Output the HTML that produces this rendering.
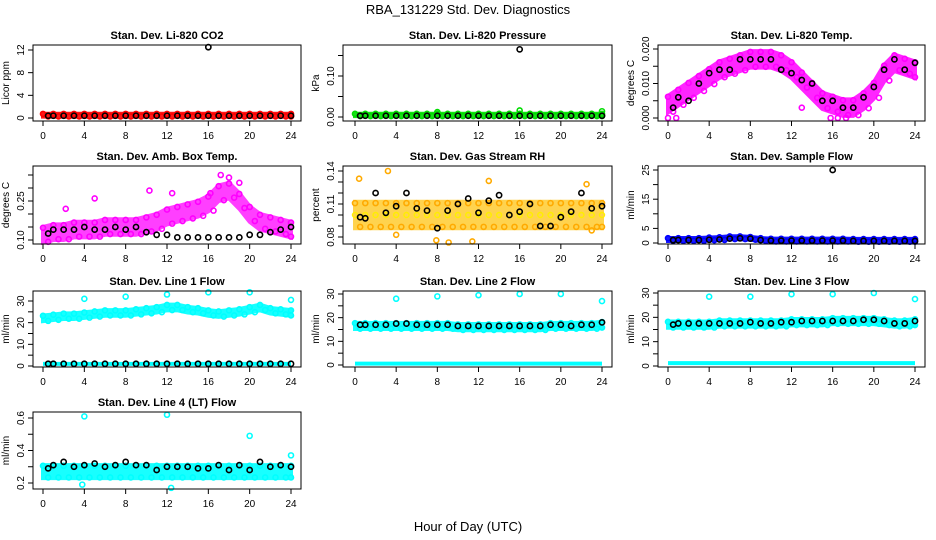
<!DOCTYPE html>
<html><head><meta charset="utf-8">
<style>
html,body{margin:0;padding:0;background:#fff;}
svg{display:block;font-family:"Liberation Sans",sans-serif;}
</style></head>
<body>
<svg id="chart" width="936" height="540" viewBox="0 0 936 540">
<text x="468" y="14" text-anchor="middle" font-size="13">RBA_131229  Std. Dev. Diagnostics</text>
<text x="468" y="531" text-anchor="middle" font-size="13">Hour of Day (UTC)</text>
</svg>
<script>
// ---- data (hourly values, 0..24) ----
const hours=[0,1,2,3,4,5,6,7,8,9,10,11,12,13,14,15,16,17,18,19,20,21,22,23,24];
const xTicks=[0,4,8,12,16,20,24];
const outlierHours=[4,8,12,16,20,24];

const co2Mid=[0.5,0.5,0.5,0.5,0.5,0.5,0.5,0.5,0.5,0.5,0.5,0.5,0.5,0.5,0.5,0.5,0.5,0.5,0.5,0.5,0.5,0.5,0.5,0.5,0.5];
const co2Black=[0.4,0.4,0.4,0.4,0.4,0.4,0.4,0.4,0.4,0.4,0.4,0.4,0.4,0.4,0.4,0.4,0.4,0.4,0.4,0.4,0.4,0.4,0.4,0.4,0.4];
const co2Outliers=[[16,12.5]];

const presMid=[0.005,0.005,0.005,0.005,0.005,0.005,0.005,0.005,0.005,0.005,0.005,0.005,0.005,0.005,0.005,0.005,0.005,0.005,0.005,0.005,0.005,0.005,0.005,0.005,0.005];
const presBlack=[0.003,0.003,0.003,0.003,0.003,0.003,0.003,0.003,0.003,0.003,0.003,0.003,0.003,0.003,0.003,0.003,0.003,0.003,0.003,0.003,0.003,0.003,0.003,0.003,0.003];
const presOutliers=[[16,0.165]];
const presColorOutliers=[[8,0.012],[16,0.016],[24,0.014]];

const tempMid=[0.004,0.006,0.008,0.010,0.012,0.014,0.015,0.016,0.017,0.017,0.017,0.016,0.014,0.011,0.008,0.005,0.004,0.003,0.003,0.005,0.008,0.013,0.016,0.015,0.014];
const tempBlack=[0.003,0.006,0.005,0.010,0.013,0.014,0.014,0.017,0.017,0.017,0.017,0.014,0.013,0.011,0.010,0.005,0.005,0.003,0.003,0.006,0.009,0.014,0.017,0.014,0.016];
const tempColorOutliers=[[0,0],[0.8,0],[15.8,0],[16.5,0],[17.3,0],[13,0.003]];

const ambMid=[0.12,0.13,0.13,0.14,0.14,0.14,0.15,0.15,0.15,0.15,0.16,0.17,0.19,0.20,0.21,0.22,0.24,0.28,0.29,0.25,0.20,0.17,0.16,0.15,0.14];
const ambBlack=[0.125,0.14,0.14,0.14,0.15,0.14,0.14,0.15,0.14,0.15,0.13,0.12,0.12,0.11,0.11,0.11,0.11,0.11,0.11,0.11,0.12,0.12,0.13,0.14,0.15];
const ambColorOutliers=[[2.2,0.22],[5,0.26],[10.3,0.29],[12.5,0.28],[16.2,0.28],[17.2,0.35],[18,0.34],[19,0.32]];

const rhMid=[0.100,0.100,0.100,0.100,0.100,0.100,0.100,0.100,0.100,0.100,0.100,0.100,0.100,0.100,0.100,0.100,0.100,0.100,0.100,0.100,0.100,0.100,0.100,0.100,0.100];
const rhBlack=[0.098,0.097,0.120,0.102,0.108,0.120,0.106,0.104,0.088,0.104,0.110,0.115,0.102,0.113,0.118,0.100,0.103,0.110,0.090,0.090,0.098,0.103,0.120,0.106,0.108];
const rhColorOutliers=[[0.4,0.133],[3.2,0.140],[4,0.082],[7.9,0.077],[9.1,0.075],[11.4,0.076],[13,0.131],[22.5,0.128],[23,0.086]];

const flowMid=[1.2,1.2,1.2,1.2,1.4,1.5,1.8,1.8,1.6,1.2,1.0,1.0,1.0,1.0,1.0,1.0,1.0,1.0,0.9,0.9,0.9,0.9,0.9,0.9,0.9];
const flowBlack=[1.0,1.0,1.0,1.0,1.1,1.2,1.5,1.6,1.5,1.0,0.8,0.8,0.8,0.8,0.8,0.8,0.8,0.8,0.7,0.7,0.7,0.7,0.7,0.7,0.7];
const flowOutliers=[[16,25]];

const l1Mid=[22,22.5,23,23,23.5,24,24.5,24.5,24.5,25,25.5,26,27,27,26,25.5,24.5,24,24.5,25,26,27,25.5,25,24.5];
const l1Low=[1,1,1,1,1,1,1,1,1,1,1,1,1,1,1,1,1,1,1,1,1,1,1,1,1];
const l1Black=[1,1,1,1,1,1,1,1,1,1,1,1,1,1,1,1,1,1,1,1,1,1,1,1,1];
const l1Spikes=[31,32,33,34,34,30.5];

const l2Mid=[16.5,16.5,16.5,16.5,16.5,16.5,16.5,16.5,16.5,16.5,16,16,16,16,16,16,16,16,16,16.5,16.5,16.5,16.5,16.5,17];
const l2Low=[0.6,0.6,0.6,0.6,0.6,0.6,0.6,0.6,0.6,0.6,0.6,0.6,0.6,0.6,0.6,0.6,0.6,0.6,0.6,0.6,0.6,0.6,0.6,0.6,0.6];
const l2Black=[17,17,17,17,17.5,17.5,17,17,17,17,16.5,16.5,16.5,16.5,16.5,16.5,16.5,16.5,16.5,17,17,16.5,17,17,18];
const l2Spikes=[28,29,29.5,30,30,27];

const l3Mid=[17,17,17,17,17,17.5,17.5,17.5,17.5,17.5,17.5,17.5,18,18,18,18,18.5,18.5,18.5,18.5,18.5,18,17.5,17.5,18];
const l3Low=[1.2,1.2,1.2,1.2,1.2,1.2,1.2,1.2,1.2,1.2,1.2,1.2,1.2,1.2,1.2,1.2,1.2,1.2,1.2,1.2,1.2,1.2,1.2,1.2,1.2];
const l3Black=[17,17.5,17.5,17.5,17.5,17.5,17.5,17.5,18,17.5,17.5,18,18,18.5,18.5,18.5,18.5,18.5,18.5,19,19,18.5,17.5,17.5,18.5];
const l3Spikes=[28.5,28.5,29.5,29.5,30,27.5];

const l4Mid=[0.27,0.27,0.27,0.27,0.27,0.27,0.27,0.27,0.27,0.27,0.27,0.27,0.27,0.27,0.27,0.27,0.27,0.27,0.27,0.27,0.27,0.27,0.27,0.27,0.27];
const l4Black=[0.29,0.31,0.33,0.30,0.31,0.32,0.30,0.31,0.33,0.31,0.31,0.28,0.30,0.30,0.30,0.29,0.29,0.31,0.28,0.31,0.28,0.33,0.30,0.31,0.30];
const l4ColorOutliers=[[4,0.61],[12,0.62],[20,0.49],[24,0.37],[3.8,0.19],[12.4,0.17]];

// ---- layout (not data) ----
const cols=[{l:33,r:301,x0:43,x24:291},{l:343,r:612,x0:355,x24:602},{l:658,r:925,x0:668,x24:915}];
const rows=[{t:45,b:121},{t:166,b:244},{t:291,b:367},{t:412,b:489}];

const panels=[
 {c:0,r:0,title:'Stan. Dev. Li-820 CO2',yl:'Licor ppm',col:'#ff0000',mid:co2Mid,spread:0.25,black:co2Black,ref:[0,118,12,50],ticks:[0,4,8,12],labels:['0','4','8','12'],outB:co2Outliers,outC:[]},
 {c:1,r:0,title:'Stan. Dev. Li-820 Pressure',yl:'kPa',col:'#00dd00',mid:presMid,spread:0.003,black:presBlack,ref:[0,117,0.1,76],ticks:[0,0.05,0.1,0.15],labels:['0.00','','0.10',''],outB:presOutliers,outC:presColorOutliers},
 {c:2,r:0,title:'Stan. Dev. Li-820 Temp.',yl:'degrees C',col:'#ff00ff',mid:tempMid,spread:0.0024,black:tempBlack,ref:[0,118,0.02,49],ticks:[0,0.005,0.01,0.015,0.02],labels:['0.000','','0.010','','0.020'],outB:[],outC:tempColorOutliers,op:0.85},
 {c:0,r:1,title:'Stan. Dev. Amb. Box Temp.',yl:'degrees C',col:'#ff00ff',mid:ambMid,spread:0.03,black:ambBlack,ref:[0.10,240,0.25,201],ticks:[0.10,0.15,0.20,0.25,0.30,0.35],labels:['0.10','','','0.25','',''],outB:[],outC:ambColorOutliers,op:0.75},
 {c:1,r:1,title:'Stan. Dev. Gas Stream RH',yl:'percent',col:'#ffaa00',fill:'#ffcc30',col2:'#ffee00',mid:rhMid,spread:0.012,black:rhBlack,ref:[0.08,237,0.14,171],ticks:[0.08,0.09,0.10,0.11,0.12,0.13,0.14],labels:['0.08','','','0.11','','','0.14'],outB:[],outC:rhColorOutliers,op:0.85},
 {c:2,r:1,title:'Stan. Dev. Sample Flow',yl:'ml/min',col:'#0000ff',mid:flowMid,spread:0.5,black:flowBlack,ref:[0,243,25,170],ticks:[0,5,10,15,20,25],labels:['0','5','','15','','25'],outB:flowOutliers,outC:[]},
 {c:0,r:2,title:'Stan. Dev. Line 1 Flow',yl:'ml/min',col:'#00ffff',mid:l1Mid,spread:1.3,low:l1Low,black:l1Black,spikes:l1Spikes,ref:[0,366,30,301],ticks:[0,5,10,15,20,25,30],labels:['0','','10','','20','','30'],outB:[],outC:[]},
 {c:1,r:2,title:'Stan. Dev. Line 2 Flow',yl:'ml/min',col:'#00ffff',mid:l2Mid,spread:1.3,low:l2Low,black:l2Black,spikes:l2Spikes,ref:[0,365,30,294],ticks:[0,5,10,15,20,25,30],labels:['0','','10','','20','','30'],outB:[],outC:[]},
 {c:2,r:2,title:'Stan. Dev. Line 3 Flow',yl:'ml/min',col:'#00ffff',mid:l3Mid,spread:1.3,low:l3Low,black:l3Black,spikes:l3Spikes,ref:[0,366,30,293],ticks:[0,5,10,15,20,25,30],labels:['0','','10','','20','','30'],outB:[],outC:[]},
 {c:0,r:3,title:'Stan. Dev. Line 4 (LT) Flow',yl:'ml/min',col:'#00ffff',mid:l4Mid,spread:0.04,black:l4Black,ref:[0.2,483,0.6,418],ticks:[0.2,0.3,0.4,0.5,0.6],labels:['0.2','','0.4','','0.6'],outB:[],outC:l4ColorOutliers},
];

const NS='http://www.w3.org/2000/svg';
const svg=document.getElementById('chart');
function mk(tag,attrs,parent){const e=document.createElementNS(NS,tag);for(const k in attrs)e.setAttribute(k,attrs[k]);(parent||svg).appendChild(e);return e;}

panels.forEach((p,pi)=>{
  const C=cols[p.c],R=rows[p.r];
  const g=mk('g',{});
  
  
  const xs=h=>C.x0+(C.x24-C.x0)*h/24;
  const ys=v=>p.ref[1]+(v-p.ref[0])*(p.ref[3]-p.ref[1])/(p.ref[2]-p.ref[0]);
  const t=mk('text',{x:(C.l+C.r)/2,y:R.t-6,'text-anchor':'middle','font-size':11,'font-weight':'bold'},g);
  t.textContent=p.title;
  
  
  let d='';
  hours.forEach((h,i)=>{d+=(i?'L':'M')+xs(h)+','+ys(p.mid[i]+p.spread);});
  for(let i=hours.length-1;i>=0;i--){d+='L'+xs(hours[i])+','+ys(p.mid[i]-p.spread);}
  const band=mk('path',{d:d+'Z',fill:p.fill||p.col,stroke:p.fill||p.col,'stroke-width':4,opacity:p.op||0.9},g);
  
  
  const colorPt=(h,v)=>{const c=mk('circle',{cx:xs(h),cy:ys(v),r:2.5,fill:'none',stroke:p.col,'stroke-width':1.6},g);
    
    };
  hours.forEach((h,i)=>{colorPt(h,p.mid[i]+p.spread*0.9);colorPt(h+0.5>24?h:h+0.5,p.mid[i]-p.spread*0.9);});
  if(p.col2){hours.forEach((h,i)=>{const c=mk('circle',{cx:xs(h),cy:ys(p.mid[i]),r:2.5,fill:'none',stroke:p.col2,'stroke-width':1.4},g);
    
    });}
  if(p.low){let dl='';hours.forEach((h,i)=>{dl+=(i?'L':'M')+xs(h)+','+ys(p.low[i]);});
    const ll=mk('path',{d:dl,fill:'none',stroke:p.col,'stroke-width':4},g);
    
    }
  if(p.spikes){p.spikes.forEach((v,i)=>colorPt(outlierHours[i],v));}
  p.outC.forEach(o=>colorPt(o[0],o[1]));
  const blackPt=(h,v)=>{const c=mk('circle',{cx:xs(h),cy:ys(v),r:2.6,fill:'none',stroke:'#000','stroke-width':1.6},g);
    
    };
  hours.forEach((h,i)=>{blackPt(Math.min(24,Math.max(0.5,h)),p.black[i]);});
  p.outB.forEach(o=>blackPt(o[0],o[1]));
  const box=mk('rect',{x:C.l,y:R.t,width:C.r-C.l,height:R.b-R.t,fill:'none',stroke:'#000','stroke-width':1},g);
  
  
  const xa=mk('g',{},g);
  
  
  mk('line',{x1:xs(0),x2:xs(24),y1:R.b,y2:R.b,stroke:'#000'},xa);
  xTicks.forEach(v=>{mk('line',{x1:xs(v),x2:xs(v),y1:R.b,y2:R.b+5,stroke:'#000'},xa);
    const tx=mk('text',{x:xs(v),y:R.b+18,'text-anchor':'middle','font-size':10},xa);tx.textContent=v;
    
    });
  const ya=mk('g',{},g);
  
  
  mk('line',{x1:C.l,x2:C.l,y1:ys(p.ticks[0]),y2:ys(p.ticks[p.ticks.length-1]),stroke:'#000'},ya);
  p.ticks.forEach((v,i)=>{const y=ys(v);mk('line',{x1:C.l-5,x2:C.l,y1:y,y2:y,stroke:'#000'},ya);
    if(p.labels[i]){const tx=mk('text',{x:C.l-9,y:y,'text-anchor':'middle','font-size':10,transform:'rotate(-90 '+(C.l-9)+' '+y+')'},ya);tx.textContent=p.labels[i];
      
      }});
  const yc=(R.t+R.b)/2, yx=C.l-24;
  const yl=mk('text',{x:yx,y:yc,'text-anchor':'middle','font-size':10,transform:'rotate(-90 '+yx+' '+yc+')'},g);
  yl.textContent=p.yl;
  
  
});
</script>
</body></html>
